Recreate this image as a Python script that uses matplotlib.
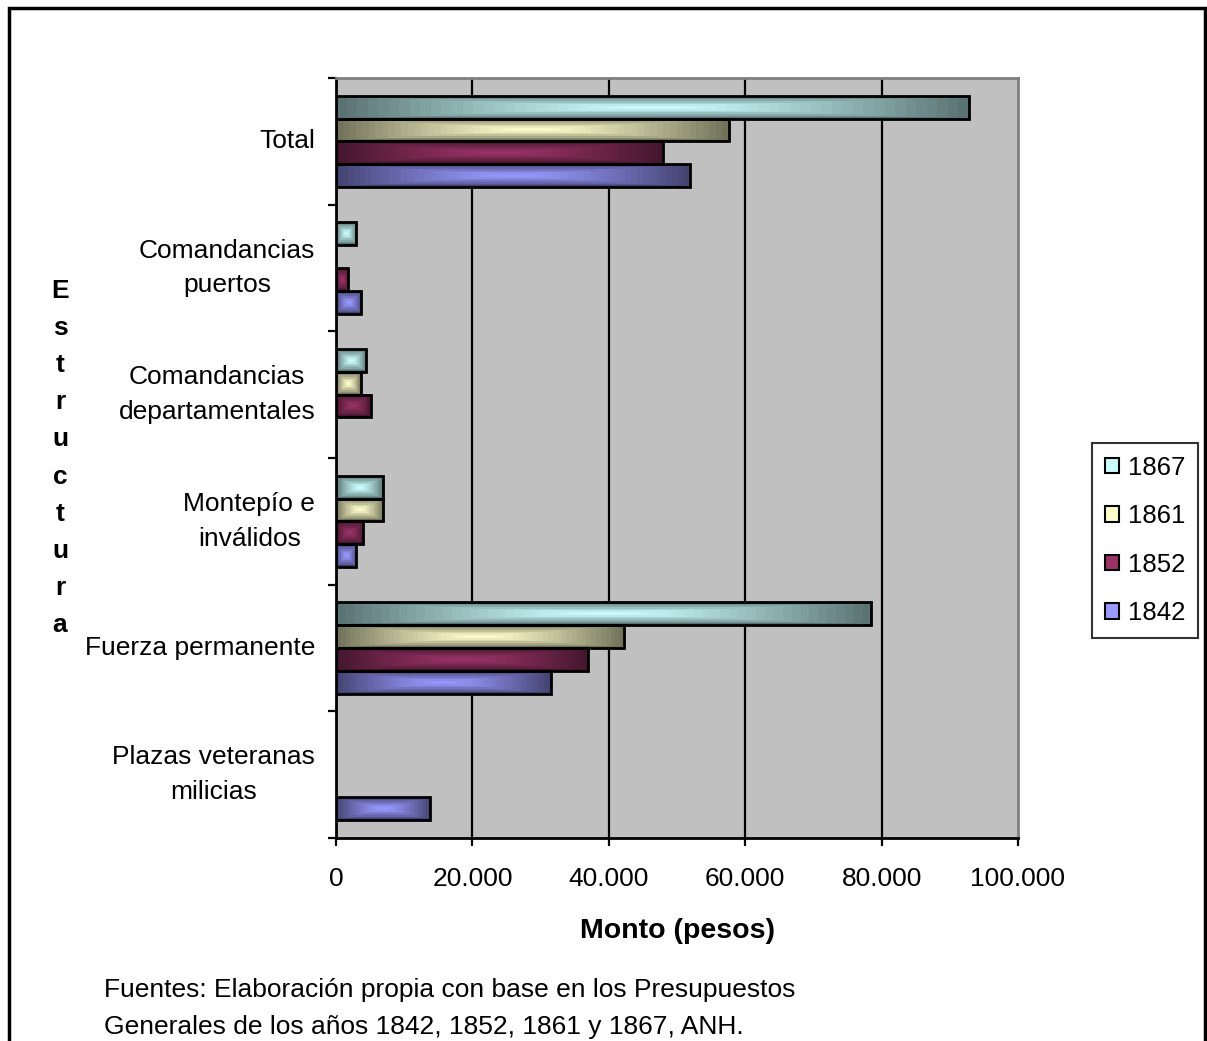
import numpy as np
import matplotlib
matplotlib.use("Agg")
import matplotlib.pyplot as plt
from matplotlib.patches import Patch, Rectangle
from matplotlib.ticker import FuncFormatter

plt.rcParams["font.family"] = ["Liberation Sans", "DejaVu Sans"]

# categories, top to bottom
categories = ["Total", "Comandancias\npuertos", "Comandancias\ndepartamentales",
              "Montepío e\ninválidos", "Fuerza permanente", "Plazas veteranas\nmilicias"]
years = ["1867", "1861", "1852", "1842"]
v1867 = [92800, 3000, 4400, 6900, 78500, 0]
v1861 = [57600, 0, 3600, 6900, 42300, 0]
v1852 = [47900, 1800, 5100, 4000, 37000, 0]
v1842 = [51900, 3700, 0, 2950, 31500, 13800]
series = [v1867, v1861, v1852, v1842]

light = ["#CCFFFF", "#FFFFCC", "#993366", "#9999FF"]
dark_fac = 0.45

fig = plt.figure(figsize=(12.07, 10.41), dpi=100)
ax = fig.add_axes([336/1207, 1-838/1041, (1018-336)/1207, (838-78)/1041])
ax.set_facecolor("#C0C0C0")

n_cat = len(categories)
bar_h = 0.18


def grad_img(color, nx=60, ny=14):
    c = np.array(matplotlib.colors.to_rgb(color))
    d = c * dark_fac
    u = np.abs(np.linspace(-1, 1, nx))
    v = np.abs(np.linspace(-1, 1, ny))
    t = np.maximum(u[None, :], v[:, None])
    t = t ** 1.3
    img = c[None, None, :] * (1 - t[..., None]) + d[None, None, :] * t[..., None]
    return img


for s, (vals, col) in enumerate(zip(series, light)):
    img = grad_img(col)
    for i, v in enumerate(vals):
        if v <= 0:
            continue
        yc = i - 2 * bar_h + bar_h / 2 + s * bar_h
        y0, y1 = yc - bar_h / 2, yc + bar_h / 2
        ax.imshow(img, extent=[0, v, y1, y0], aspect="auto", zorder=3,
                  interpolation="nearest")
        ax.add_patch(Rectangle((0, y0), v, bar_h, fill=False, ec="black",
                               lw=2, zorder=4))

ax.set_xlim(0, 100000)
ax.set_ylim(n_cat - 0.5, -0.5)

for x in [20000, 40000, 60000, 80000]:
    ax.axvline(x, color="black", lw=1.6, zorder=1)

ax.set_xticks(np.arange(0, 100001, 20000))
ax.xaxis.set_major_formatter(FuncFormatter(lambda x, p: "{:,.0f}".format(x).replace(",", ".")))
ax.tick_params(axis="x", length=6, width=1.6, pad=15, labelsize=19)

ax.set_yticks(np.arange(-0.5, n_cat, 1.0))
ax.set_yticklabels([])
ax.set_yticks(np.arange(n_cat), minor=True)
ax.set_yticklabels(categories, minor=True)
ax.tick_params(axis="y", which="major", length=6, width=1.6)
ax.tick_params(axis="y", which="minor", length=0, pad=15, labelsize=19)
for lbl in ax.get_yticklabels(minor=True):
    lbl.set_multialignment("center")
    lbl.set_linespacing(1.55)
    lbl.set_verticalalignment("center")

for side in ["left", "bottom"]:
    ax.spines[side].set_color("black")
    ax.spines[side].set_linewidth(2)
for side in ["top", "right"]:
    ax.spines[side].set_color("#808080")
    ax.spines[side].set_linewidth(2)

ax.set_xlabel("Monto (pesos)", fontsize=20.5, fontweight="bold", labelpad=19)
fig.text(60/1207, 1-458/1041, "\n".join("Estructura"), fontsize=19,
         fontweight="bold", ha="center", va="center", linespacing=1.69)

handles = [Patch(facecolor=c, edgecolor="black", lw=1.5, label=y)
           for y, c in zip(years, light)]
leg = fig.legend(handles=handles, loc="upper left",
                 bbox_to_anchor=(1092/1207, 1-443/1041), fontsize=18.5,
                 frameon=True, fancybox=False, edgecolor="black",
                 handlelength=0.55, handleheight=0.55, handletextpad=0.35,
                 labelspacing=0.95, borderpad=0.5, borderaxespad=0)
leg.get_frame().set_linewidth(1.5)

fig.text(104/1207, 1-990/1041,
         "Fuentes: Elaboración propia con base en los Presupuestos",
         fontsize=19, ha="left", va="center")
fig.text(104/1207, 1-1027/1041,
         "Generales de los años 1842, 1852, 1861 y 1867, ANH.",
         fontsize=19, ha="left", va="center")

# outer frame (open at the bottom)
fig.add_artist(Rectangle((9/1207, -0.05), (1205-9)/1207, 1.05 - 8/1041,
                         transform=fig.transFigure, fill=False, ec="black", lw=2.5))

fig.savefig("out.png", dpi=100)
